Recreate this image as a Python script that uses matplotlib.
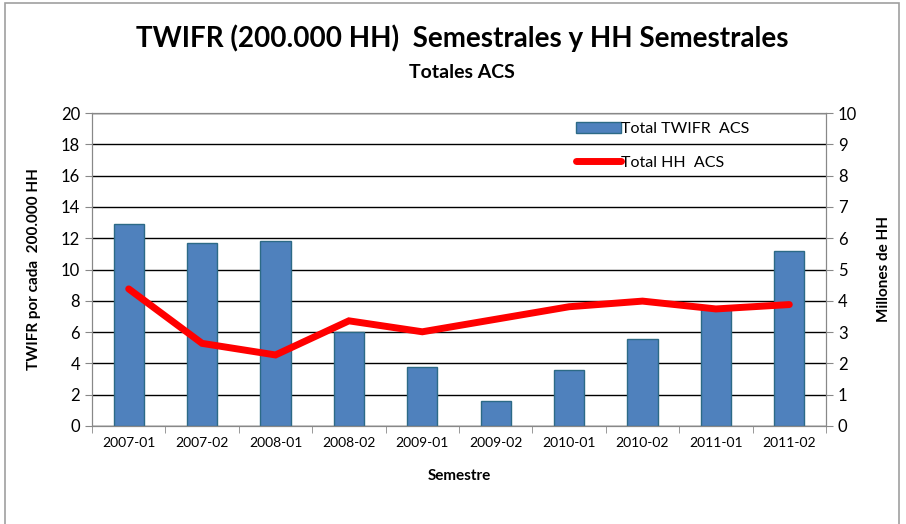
import matplotlib.pyplot as plt
from matplotlib.patches import Rectangle
from matplotlib.lines import Line2D

plt.rcParams['font.family'] = ['Lato', 'DejaVu Sans']

# Data
semestres = ["2007-01", "2007-02", "2008-01", "2008-02", "2009-01",
             "2009-02", "2010-01", "2010-02", "2011-01", "2011-02"]
twifr = [12.9, 11.7, 11.8, 6.0, 3.8, 1.6, 3.55, 5.55, 7.55, 11.2]
hh_millones = [4.38, 2.64, 2.27, 3.36, 3.01, 3.41, 3.81, 3.99, 3.74, 3.88]

W, H = 906, 524
fig = plt.figure(figsize=(W / 100, H / 100), dpi=100)

# outer chart border (Excel-like)
fig.patches.append(Rectangle((5 / W, -0.01), 894 / W, 1.01 - 3 / H, transform=fig.transFigure,
                             fill=False, edgecolor="#a0a0a0", linewidth=1.2))

ax = fig.add_axes([92 / W, 1 - 426 / H, 734 / W, 313 / H])
x = list(range(len(semestres)))

ax.set_axisbelow(True)
ax.yaxis.grid(True, color="black", linewidth=1.0)
bars = ax.bar(x, twifr, width=0.41, color="#4F81BD", edgecolor="#2C6A86", linewidth=1.0,
              label="Total TWIFR  ACS", zorder=2)
ax.set_xlim(-0.5, len(semestres) - 0.5)
ax.set_ylim(0, 20)
ax.set_yticks(range(0, 21, 2))
ax.set_xticks(x)
ax.set_xticklabels(semestres, fontsize=10)
ax.set_xticks([i - 0.5 for i in range(len(semestres) + 1)], minor=True)
ax.tick_params(axis="x", which="major", length=0, pad=8)
ax.tick_params(axis="x", which="minor", length=5, color="#888888")
ax.tick_params(axis="y", labelsize=12, length=5, color="#888888")
for s in ax.spines.values():
    s.set_color("#888888")
ax.set_ylabel("TWIFR por cada  200.000 HH", fontsize=11, fontweight="bold", labelpad=14)
ax.set_xlabel("Semestre", fontsize=11, fontweight="bold", labelpad=14)

ax2 = ax.twinx()
ax2.plot(x, hh_millones, color="#FF0000", linewidth=5, solid_capstyle="round",
         solid_joinstyle="miter", label="Total HH  ACS", zorder=3)
ax2.set_ylim(0, 10)
ax2.set_yticks(range(0, 11))
ax2.tick_params(axis="y", labelsize=12, length=5, color="#888888")
for s in ax2.spines.values():
    s.set_color("#888888")
ax2.set_ylabel("Millones de HH", fontsize=11, fontweight="bold", labelpad=14)

handles = [bars, Line2D([0], [0], color="#FF0000", linewidth=5, solid_capstyle="round")]
labels = ["Total TWIFR  ACS", "Total HH  ACS"]
ax2.legend(handles, labels, loc="upper left", bbox_to_anchor=(0.64, 1.018), frameon=False,
           fontsize=11.5, handlelength=2.8, handletextpad=0.0, labelspacing=1.25)

fig.text(462 / W, 1 - 38 / H, "TWIFR (200.000 HH)  Semestrales y HH Semestrales",
         ha="center", va="center", fontsize=20, fontweight="bold")
fig.text(462 / W, 1 - 72 / H, "Totales ACS", ha="center", va="center",
         fontsize=14, fontweight="bold")

fig.savefig("out.png", dpi=100)
